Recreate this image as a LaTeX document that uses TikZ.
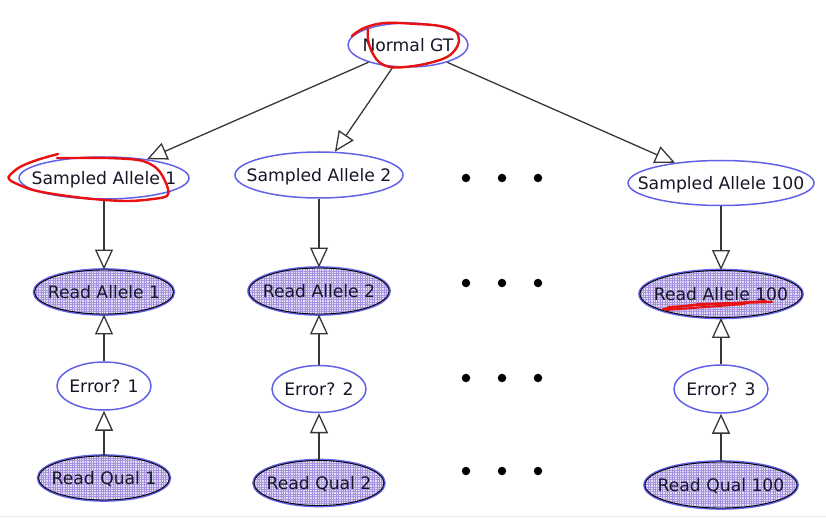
\documentclass[tikz,border=0pt]{standalone}
\usepackage{fontspec}
\setmainfont{DejaVu Sans}
\usetikzlibrary{arrows.meta,shapes.geometric,patterns.meta}
\definecolor{nodeblue}{RGB}{98,98,232}
\definecolor{shade}{RGB}{228,223,248}
\definecolor{hatch}{RGB}{165,145,222}
\definecolor{edgegray}{RGB}{55,55,55}
\definecolor{inkred}{RGB}{232,16,16}
\definecolor{labelink}{RGB}{22,22,40}
% label set on a zero-size box, so the ellipse size is set by minimum width/height only
\newcommand\ctext[1]{\makebox[0pt]{\raisebox{-0.37em}[0pt][0pt]{#1}}}
\tikzset{
  lbl/.style={font=\fontsize{17.2}{20}\selectfont, text=labelink, inner sep=0pt},
  hidden/.style={ellipse, lbl, draw=nodeblue, line width=1.5pt, fill=white},
  observed/.style={ellipse, lbl, draw=black, line width=0.9pt,
    preaction={draw=nodeblue, line width=3.6pt},
    preaction={fill=shade},
    preaction={pattern={Lines[angle=0,distance=2.4pt,line width=0.35pt]}, pattern color=hatch},
    preaction={pattern={Lines[angle=90,distance=2.4pt,line width=0.35pt]}, pattern color=hatch}},
  sz/.style 2 args={minimum width=#1pt, minimum height=#2pt},
  link/.style={draw=edgegray, line width=1.3pt,
    -{Triangle[open, length=20pt, width=18pt, line width=1.3pt]}},
  dotmark/.style={circle, fill=black, inner sep=0pt, minimum size=8.5pt},
  scribble/.style={draw=inkred, line width=2.4pt, line cap=round, line join=round}
}
\begin{document}
\begin{tikzpicture}[x=1pt, y=-1pt]
  \useasboundingbox (0,0) rectangle (826,518);
  \draw[black!8, line width=1pt] (0,516) -- (826,516);

  % root
  \node[hidden, sz={120}{44}] (gt) at (408,45) {\ctext{Normal GT}};

  % column 1
  \node[hidden, sz={170}{42}]   (sa1) at (104,178) {\ctext{Sampled Allele 1}};
  \node[observed, sz={139}{44}] (ra1) at (104,292) {\ctext{Read Allele 1}};
  \node[hidden, sz={94}{48}]    (er1) at (104,386) {\ctext{Error? 1}};
  \node[observed, sz={131}{44}] (rq1) at (104,478) {\ctext{Read Qual 1}};

  % column 2
  \node[hidden, sz={168}{46}]   (sa2) at (319,175) {\ctext{Sampled Allele 2}};
  \node[observed, sz={140}{46}] (ra2) at (319,291) {\ctext{Read Allele 2}};
  \node[hidden, sz={94}{47}]    (er2) at (319,389) {\ctext{Error? 2}};
  \node[observed, sz={130}{45}] (rq2) at (319,483) {\ctext{Read Qual 2}};

  % column 3
  \node[hidden, sz={186}{45}]   (sa3) at (721,183) {\ctext{Sampled Allele 100}};
  \node[observed, sz={162}{47}] (ra3) at (721,294) {\ctext{Read Allele 100}};
  \node[hidden, sz={94}{48}]    (er3) at (721,389) {\ctext{Error? 3}};
  \node[observed, sz={152}{46}] (rq3) at (721,485) {\ctext{Read Qual 100}};

  % edges
  \draw[link] (gt) -- (sa1);
  \draw[link] (gt) -- (sa2);
  \draw[link] (gt) -- (sa3);
  \foreach \c in {1,2,3} {
    \draw[link] (sa\c) -- (ra\c);
    \draw[link] (er\c) -- (ra\c);
    \draw[link] (rq\c) -- (er\c);
  }

  % ellipsis dots between columns
  \foreach \r/\y in {a/178, b/283, c/378, d/471} {
    \node[dotmark] (dot\r1) at (466,\y) {};
    \node[dotmark] (dot\r2) at (502,\y) {};
    \node[dotmark] (dot\r3) at (538,\y) {};
  }

  % red pen marks
  \draw[scribble] plot[smooth, tension=0.6] coordinates {
    (352,36) (364,28) (385,23) (417,24) (440,26) (455,31) (459,40)
    (455,50) (445,58) (425,64) (405,67) (390,67) (379,62) (372,52)
    (368,40) (368,29)};
  \draw[scribble] plot[smooth, tension=0.6] coordinates {
    (58,154) (37,160) (20,167) (10,175) (9,179) (15,183) (33,190)
    (60,195) (93,199) (127,201) (153,199) (167,196) (168,189) (165,181)
    (160,172) (152,165) (138,160) (107,158) (73,158) (57,158)};
  \draw[scribble, line width=2.2pt] (663,309) -- (700,304) -- (772,302);
  \draw[scribble, line width=2pt] (668,307) -- (735,303) -- (766,301);
  \draw[scribble, line width=2pt] (666,310) -- (745,304);
\end{tikzpicture}
\end{document}
